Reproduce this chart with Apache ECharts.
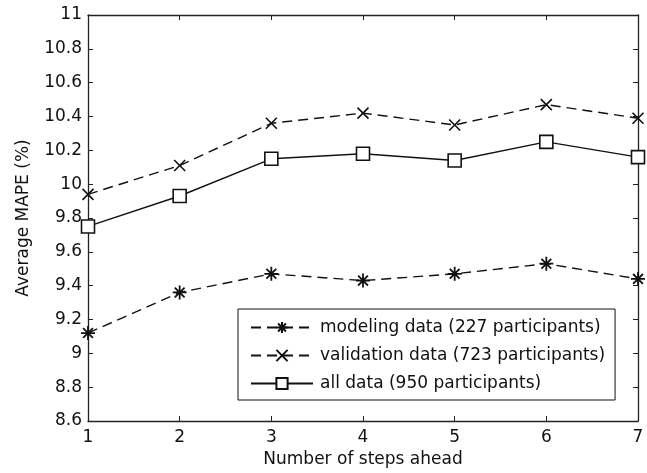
<!DOCTYPE html>
<html>
<head>
<meta charset="utf-8">
<script src="https://cdn.jsdelivr.net/npm/echarts@6/dist/echarts.min.js"></script>
<style>
  html, body { margin: 0; padding: 0; background: #fff; }
  #box1 { width: 647px; height: 473px; }
</style>
</head>
<body>
<div id="box1"></div>
<script>
// steps ahead
var steps = [1, 2, 3, 4, 5, 6, 7];
// average MAPE (%) per data set
var modelingData = [9.12, 9.36, 9.47, 9.43, 9.47, 9.53, 9.44];
var validationData = [9.94, 10.11, 10.36, 10.42, 10.35, 10.47, 10.39];
var allData = [9.75, 9.93, 10.15, 10.18, 10.14, 10.25, 10.16];
var seriesNames = [
  'modeling data (227 participants)',
  'validation data (723 participants)',
  'all data (950 participants)'
];

var FONT = 'DejaVu Sans, Liberation Sans, Arial, sans-serif';
var FS = 17;
var starPath = 'path://M5 0L5 10M0 5L10 5M1.5 1.5L8.5 8.5M8.5 1.5L1.5 8.5';
var crossPath = 'path://M0 0L10 10M10 0L0 10';

function pairs(ys) {
  return steps.map(function (x, i) { return [x, ys[i]]; });
}

function fmt(v) {
  return String(Math.round(v * 10) / 10);
}

var myChart = echarts.init(document.getElementById('box1'));

var boxAxis = {
  axisLine: { show: true, lineStyle: { color: '#222', width: 1.3 } },
  axisTick: { show: true, inside: true, length: 5, lineStyle: { color: '#222' } },
  splitLine: { show: false }
};

var option = {
  animation: false,
  backgroundColor: '#fff',
  grid: { left: 88, right: 9, top: 15, bottom: 51 },
  textStyle: { fontFamily: FONT },
  legend: {
    data: seriesNames,
    orient: 'vertical',
    left: 238,
    top: 309,
    width: 380,
    padding: [10, 10, 8, 12],
    itemGap: 11,
    itemWidth: 62,
    itemHeight: 14,
    borderColor: '#111',
    borderWidth: 1,
    backgroundColor: '#fff',
    textStyle: { fontFamily: FONT, fontSize: FS, color: '#111', padding: [0, 0, 0, 2] }
  },
  xAxis: [
    Object.assign({
      type: 'value', min: 1, max: 7, interval: 1, position: 'bottom',
      name: 'Number of steps ahead', nameLocation: 'middle', nameGap: 30,
      nameTextStyle: { fontFamily: FONT, fontSize: FS, color: '#111' },
      axisLabel: { fontFamily: FONT, fontSize: FS, color: '#111', margin: 8 }
    }, boxAxis),
    Object.assign({
      type: 'value', min: 1, max: 7, interval: 1, position: 'top',
      axisLabel: { show: false }
    }, boxAxis)
  ],
  yAxis: [
    Object.assign({
      type: 'value', min: 8.6, max: 11, interval: 0.2, position: 'left',
      name: 'Average MAPE (%)', nameLocation: 'middle', nameGap: 56,
      nameTextStyle: { fontFamily: FONT, fontSize: FS, color: '#111' },
      axisLabel: { fontFamily: FONT, fontSize: FS, color: '#111', margin: 6, formatter: fmt }
    }, boxAxis),
    Object.assign({
      type: 'value', min: 8.6, max: 11, interval: 0.2, position: 'right',
      axisLabel: { show: false }
    }, boxAxis)
  ],
  series: [
    {
      name: seriesNames[0], type: 'line', data: pairs(modelingData),
      symbol: starPath, symbolSize: 14,
      itemStyle: { color: 'rgba(0,0,0,0)', borderColor: '#111', borderWidth: 1.8 },
      lineStyle: { color: '#111', width: 1.4, type: [10, 6] }
    },
    {
      name: seriesNames[1], type: 'line', data: pairs(validationData),
      symbol: crossPath, symbolSize: 11,
      itemStyle: { color: 'rgba(0,0,0,0)', borderColor: '#111', borderWidth: 1.6 },
      lineStyle: { color: '#111', width: 1.4, type: [10, 6] }
    },
    {
      name: seriesNames[2], type: 'line', data: pairs(allData),
      symbol: 'rect', symbolSize: 13,
      itemStyle: { color: '#fff', borderColor: '#111', borderWidth: 1.6 },
      lineStyle: { color: '#111', width: 1.4 }
    }
  ]
};

myChart.setOption(option);
</script>
</body>
</html>
